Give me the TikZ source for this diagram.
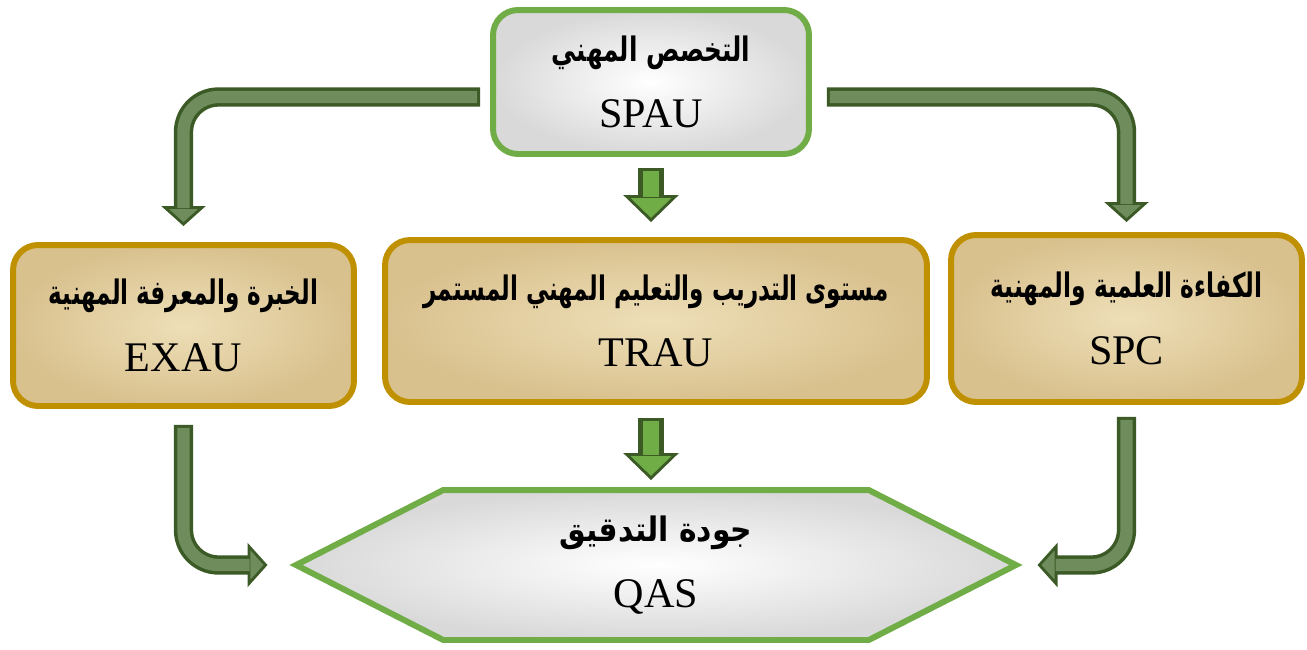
\documentclass[tikz,border=0pt]{standalone}
\usepackage{fontspec}
\setmainfont{Liberation Serif}
\newfontfamily\arabicfont[Script=Arabic]{DejaVu Sans}
\TeXXeTstate=1
\usetikzlibrary{arrows.meta,calc,shapes.symbols}

\definecolor{boxgreen}{HTML}{70AD47}
\definecolor{boxgold}{HTML}{BF9000}
\definecolor{arrowdark}{HTML}{3B5A25}
\definecolor{arrowlight}{HTML}{6F8D5C}
\definecolor{arrowbright}{HTML}{70AD47}
\definecolor{paperlight}{HTML}{EEDFB8}
\definecolor{paperdark}{HTML}{D9C18E}

\newcommand{\artext}[2][0.82]{\scalebox{#1}[1.2]{\arabicfont\bfseries\fontsize{16}{20}\selectfont\beginR #2\endR}}

\begin{document}
\begin{tikzpicture}[x=0.02cm,y=-0.02cm,
	font=\fontsize{24}{38}\selectfont,
	greenbox/.style={draw=boxgreen, line width=3.4pt, rounded corners=0.5cm,
		inner color=white, outer color=black!15, align=center},
	goldbox/.style={draw=boxgold, line width=3.4pt, rounded corners=0.5cm,
		inner color=paperlight, outer color=paperdark, align=center},
	hexbox/.style={signal, signal to=east and west, signal pointer angle=54,
		draw=boxgreen, line width=3.4pt, inner color=white, outer color=black!15, align=center},
	bendout/.style={line width=11pt, draw=arrowdark, rounded corners=0.7cm,
		-{Triangle[width=0.88cm,length=0.4cm,line width=1.6pt,fill=arrowlight]}},
	bendin/.style={line width=7pt, draw=arrowlight, rounded corners=0.7cm},
	midout/.style={line width=14.7pt, draw=arrowdark,
		-{Triangle[width=1.1cm,length=0.54cm,line width=1.6pt,fill=arrowbright]}},
	midin/.style={line width=9pt, draw=arrowbright}]
	\useasboundingbox (0,0) rectangle (1307,649);

	% boxes
	\node[greenbox, minimum width=6.32cm, minimum height=2.88cm] (spau) at (651,82)
		{\artext[0.88]{التخصص المهني}\\SPAU};
	\node[goldbox, minimum width=6.82cm, minimum height=3.22cm] (exau) at (183.5,325.5)
		{\artext{الخبرة والمعرفة المهنية}\\EXAU};
	\node[goldbox, minimum width=10.84cm, minimum height=3.24cm] (trau) at (656,321)
		{\artext{مستوى التدريب والتعليم المهني المستمر}\\TRAU};
	\node[goldbox, minimum width=7.02cm, minimum height=3.34cm] (spc) at (1126.5,318.5)
		{\artext[0.83]{الكفاءة العلمية والمهنية}\\SPC};
	\node[hexbox, minimum width=14.4cm, minimum height=3.0cm] (qas) at (656,565)
		{\artext[1.06]{جودة التدقيق}\\QAS};

	% bent arrows
	\draw[bendout, shorten <=0.2cm, shorten >=0.32cm] ($(spau.west)+(0,15)$) -| (exau.north);
	\draw[bendin, shorten <=0.26cm, shorten >=0.68cm] ($(spau.west)+(0,15)$) -| (exau.north);
	\draw[bendout, shorten <=0.3cm, shorten >=0.2cm] ($(spau.east)+(0,15)$) -| (spc.north);
	\draw[bendin, shorten <=0.36cm, shorten >=0.56cm] ($(spau.east)+(0,15)$) -| (spc.north);
	\draw[bendout, shorten <=0.32cm, shorten >=0.44cm] (exau.south) |- (qas.west);
	\draw[bendin, shorten <=0.38cm, shorten >=0.8cm] (exau.south) |- (qas.west);
	\draw[bendout, shorten <=0.24cm, shorten >=0.3cm] (spc.south) |- (qas.east);
	\draw[bendin, shorten <=0.3cm, shorten >=0.66cm] (spc.south) |- (qas.east);

	% straight arrows
	\draw[midout, shorten <=0.22cm, shorten >=0.3cm] (spau.south) -- (spau.south |- trau.north);
	\draw[midin, shorten <=0.28cm, shorten >=0.8cm] (spau.south) -- (spau.south |- trau.north);
	\draw[midout, shorten <=0.26cm, shorten >=0.14cm] (spau.south |- trau.south) -- (spau.south |- qas.north);
	\draw[midin, shorten <=0.32cm, shorten >=0.64cm] (spau.south |- trau.south) -- (spau.south |- qas.north);
\end{tikzpicture}
\end{document}
